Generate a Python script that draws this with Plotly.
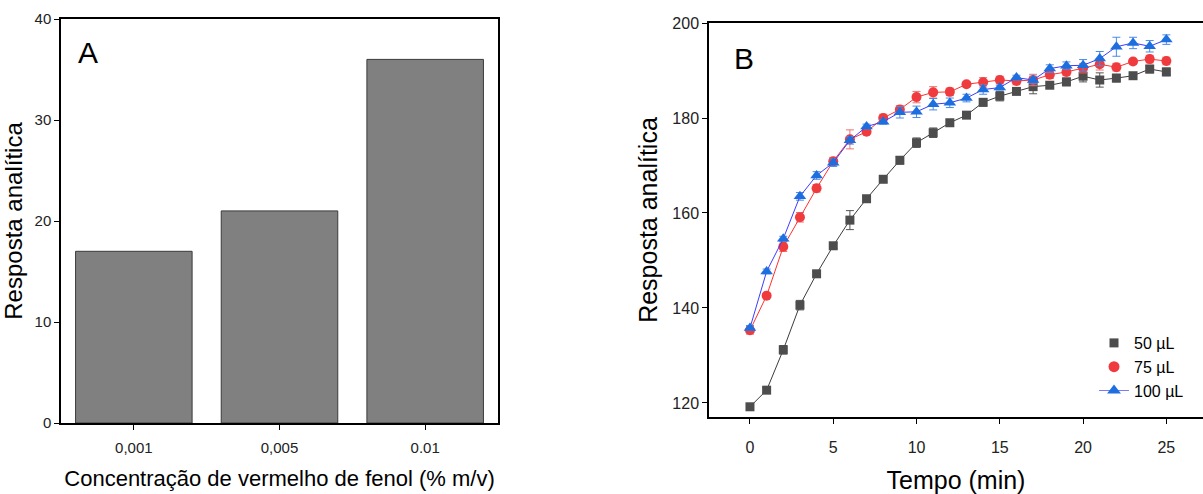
import plotly.graph_objects as go

# Panel A data
conc_labels = ["0,001", "0,005", "0.01"]
resp_A = [17, 21, 36]

# Panel B data
tempo = list(range(0, 26))
v50 = [119.2, 122.7, 131.2, 140.6, 147.2, 153.1, 158.5, 163.0, 167.1, 171.1, 174.8, 176.9, 179.0,
       180.6, 183.3, 184.6, 185.6, 186.6, 186.9, 187.6, 188.8, 188.0, 188.4, 188.9, 190.3, 189.7]
e50 = [0.6, 0.5, 0.9, 1.0, 0.5, 0.6, 2.0, 0.5, 0.5, 0.8, 1.0, 1.0, 0.6, 0.5, 0.8, 1.0, 0.5, 1.5,
       0.5, 0.8, 1.2, 1.5, 0.8, 0.5, 0.8, 0.8]
v75 = [135.3, 142.6, 152.9, 159.1, 165.2, 170.9, 175.5, 177.1, 180.0, 181.8, 184.4, 185.4, 185.5,
       187.1, 187.5, 188.0, 187.8, 188.0, 189.1, 189.7, 190.5, 191.3, 190.7, 191.9, 192.4, 192.0]
e75 = [0.8, 0.3, 1.0, 1.0, 0.8, 0.8, 2.0, 0.5, 0.8, 0.8, 1.2, 1.2, 0.8, 0.5, 1.0, 0.8, 0.8, 1.2,
       0.8, 0.8, 1.0, 1.2, 0.8, 0.5, 0.8, 0.8]
v100 = [135.8, 147.7, 154.6, 163.5, 167.9, 170.6, 175.3, 178.2, 179.2, 181.2, 181.3, 182.9, 183.2,
        184.2, 186.0, 186.4, 188.5, 188.0, 190.4, 191.0, 191.1, 192.5, 195.0, 195.8, 195.1, 196.5]
e100 = [0.5, 0.5, 0.5, 0.8, 0.8, 0.8, 0.8, 0.5, 0.5, 1.2, 1.2, 1.2, 1.0, 0.8, 1.0, 0.5, 0.5, 0.8,
        0.8, 0.8, 1.2, 1.5, 2.0, 1.2, 1.2, 1.0]
series_names = ["50 µL", "75 µL", "100 µL"]

FONT = "Arial, Liberation Sans, sans-serif"
W, H = 1203, 494

fig = go.Figure()

fig.add_trace(go.Bar(
    x=conc_labels, y=resp_A, width=0.8,
    marker=dict(color="#808080", line=dict(color="#3a3a3a", width=1)),
    xaxis="x", yaxis="y", showlegend=False,
))

specs = [
    (v50, e50, "#4d4d4d", "#3c3c3c", "square", 9, "#555555"),
    (v75, e75, "#ef3b3e", "#ff3030", "circle", 10, "#f07070"),
    (v100, e100, "#1d6fe0", "#3c3cff", "triangle-up", 11, "#4a8ae8"),
]
for (vals, errs, mcol, lcol, sym, size, ecol), name in zip(specs, series_names):
    fig.add_trace(go.Scatter(
        x=tempo, y=vals, mode="lines+markers",
        line=dict(color=lcol, width=1),
        marker=dict(symbol=sym, size=size, color=mcol),
        error_y=dict(type="data", array=errs, visible=True, color=ecol, thickness=1, width=4),
        xaxis="x2", yaxis="y2", showlegend=False,
    ))

# legend entries
leg = [
    ("markers", "#4d4d4d", "#3c3c3c", "square", 9),
    ("markers", "#ef3b3e", "#ff3030", "circle", 11),
    ("lines+markers", "#1d6fe0", "#7a7aff", "triangle-up", 12),
]
for (mode, mcol, lcol, sym, size), name in zip(leg, series_names):
    fig.add_trace(go.Scatter(
        x=[None], y=[None], mode=mode, name=name,
        line=dict(color=lcol, width=1),
        marker=dict(symbol=sym, size=size, color=mcol),
        xaxis="x2", yaxis="y2", showlegend=True,
    ))

def ax(fs):
    return dict(
        showline=True, linecolor="black", linewidth=1.5, ticks="outside", ticklen=5,
        tickwidth=1, tickcolor="black", showgrid=False, zeroline=False, automargin=False,
        tickfont=dict(family=FONT, size=fs, color="#222222"),
    )

fig.update_layout(
    width=W, height=H, margin=dict(l=0, r=0, t=0, b=0, autoexpand=False),
    paper_bgcolor="white", plot_bgcolor="white",
    font=dict(family=FONT, color="black"),
    xaxis=dict(domain=[61 / W, 498 / W], anchor="y", mirror=True, range=[-0.5, 2.5],
               type="category", ticklabelstandoff=5,
               title=dict(text="Concentração de vermelho de fenol (% m/v)",
                          font=dict(family=FONT, size=22), standoff=16),
               **ax(15)),
    yaxis=dict(domain=[1 - 423 / H, 1 - 19 / H], anchor="x", mirror=True, range=[0, 40],
               tickvals=[0, 10, 20, 30, 40],
               title=dict(text="Resposta analítica", font=dict(family=FONT, size=24), standoff=10),
               **ax(15)),
    xaxis2=dict(domain=[709 / W, 1.0], anchor="y2", mirror=True, range=[-2.46, 27.2],
                tickvals=[0, 5, 10, 15, 20, 25], ticklabelstandoff=10,
                title=dict(text="Tempo (min)", font=dict(family=FONT, size=25), standoff=18),
                **ax(16)),
    yaxis2=dict(domain=[1 - 417 / H, 1 - 23 / H], anchor="x2", mirror=False, range=[117.05, 200],
                tickvals=[120, 140, 160, 180, 200],
                title=dict(text="Resposta analítica", font=dict(family=FONT, size=25), standoff=8),
                **ax(16)),
    legend=dict(x=1094 / W, xanchor="left", y=1 - 326 / H, yanchor="top",
                bgcolor="rgba(0,0,0,0)", font=dict(family=FONT, size=16),
                tracegroupgap=0, itemwidth=30),
    bargap=0.2,
    annotations=[
        dict(text="A", x=88 / W, y=1 - 52 / H, xref="paper", yref="paper", showarrow=False,
             font=dict(family=FONT, size=30), xanchor="center", yanchor="middle"),
        dict(text="B", x=744 / W, y=1 - 58 / H, xref="paper", yref="paper", showarrow=False,
             font=dict(family=FONT, size=30), xanchor="center", yanchor="middle"),
    ],
)

fig.write_html("out.html")
